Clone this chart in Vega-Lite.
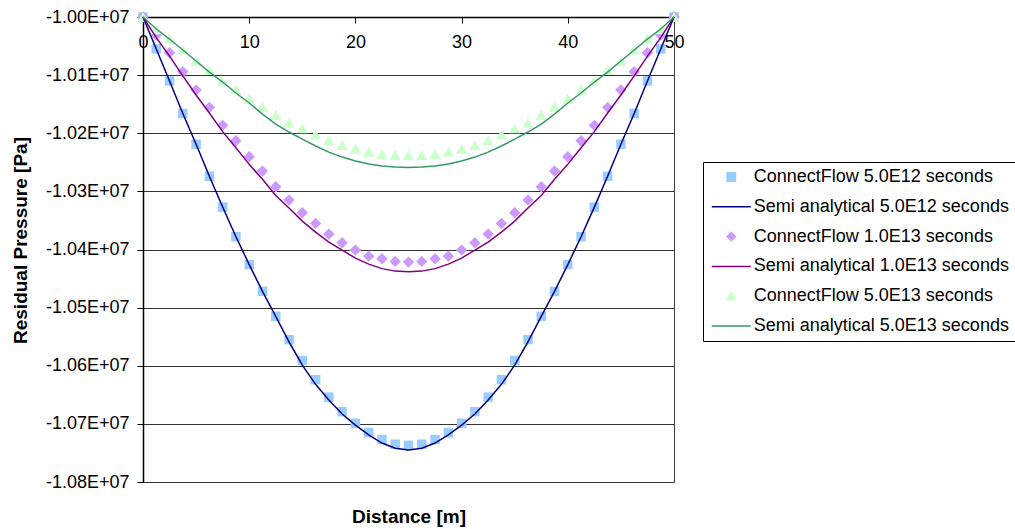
{
"$schema": "https://vega.github.io/schema/vega-lite/v6.json",
"width": 531, "height": 465,
"autosize": {"type": "none"},
"padding": {"left": 143, "top": 17, "right": 341, "bottom": 47},
"background": "white",
"config": {"view": {"stroke": "#404040", "strokeWidth": 1}, "font": "Liberation Sans"},
"datasets": {
"pts": [
{"s":"ConnectFlow 5.0E12 seconds","x":0,"y":-10000000},{"s":"ConnectFlow 5.0E12 seconds","x":1.25,"y":-10055000},{"s":"ConnectFlow 5.0E12 seconds","x":2.5,"y":-10110000},{"s":"ConnectFlow 5.0E12 seconds","x":3.75,"y":-10166000},{"s":"ConnectFlow 5.0E12 seconds","x":5,"y":-10219000},{"s":"ConnectFlow 5.0E12 seconds","x":6.25,"y":-10274000},{"s":"ConnectFlow 5.0E12 seconds","x":7.5,"y":-10327000},{"s":"ConnectFlow 5.0E12 seconds","x":8.75,"y":-10378000},{"s":"ConnectFlow 5.0E12 seconds","x":10,"y":-10426000},{"s":"ConnectFlow 5.0E12 seconds","x":11.25,"y":-10472000},{"s":"ConnectFlow 5.0E12 seconds","x":12.5,"y":-10515000},{"s":"ConnectFlow 5.0E12 seconds","x":13.75,"y":-10555000},{"s":"ConnectFlow 5.0E12 seconds","x":15,"y":-10591000},{"s":"ConnectFlow 5.0E12 seconds","x":16.25,"y":-10624000},{"s":"ConnectFlow 5.0E12 seconds","x":17.5,"y":-10654000},{"s":"ConnectFlow 5.0E12 seconds","x":18.75,"y":-10679000},{"s":"ConnectFlow 5.0E12 seconds","x":20,"y":-10699000},{"s":"ConnectFlow 5.0E12 seconds","x":21.25,"y":-10715000},{"s":"ConnectFlow 5.0E12 seconds","x":22.5,"y":-10727000},{"s":"ConnectFlow 5.0E12 seconds","x":23.75,"y":-10735000},{"s":"ConnectFlow 5.0E12 seconds","x":25,"y":-10737000},{"s":"ConnectFlow 5.0E12 seconds","x":26.25,"y":-10735000},{"s":"ConnectFlow 5.0E12 seconds","x":27.5,"y":-10727000},{"s":"ConnectFlow 5.0E12 seconds","x":28.75,"y":-10715000},{"s":"ConnectFlow 5.0E12 seconds","x":30,"y":-10699000},{"s":"ConnectFlow 5.0E12 seconds","x":31.25,"y":-10679000},{"s":"ConnectFlow 5.0E12 seconds","x":32.5,"y":-10654000},{"s":"ConnectFlow 5.0E12 seconds","x":33.75,"y":-10624000},{"s":"ConnectFlow 5.0E12 seconds","x":35,"y":-10591000},{"s":"ConnectFlow 5.0E12 seconds","x":36.25,"y":-10555000},{"s":"ConnectFlow 5.0E12 seconds","x":37.5,"y":-10515000},{"s":"ConnectFlow 5.0E12 seconds","x":38.75,"y":-10472000},{"s":"ConnectFlow 5.0E12 seconds","x":40,"y":-10426000},{"s":"ConnectFlow 5.0E12 seconds","x":41.25,"y":-10378000},{"s":"ConnectFlow 5.0E12 seconds","x":42.5,"y":-10327000},{"s":"ConnectFlow 5.0E12 seconds","x":43.75,"y":-10274000},{"s":"ConnectFlow 5.0E12 seconds","x":45,"y":-10219000},{"s":"ConnectFlow 5.0E12 seconds","x":46.25,"y":-10166000},{"s":"ConnectFlow 5.0E12 seconds","x":47.5,"y":-10110000},{"s":"ConnectFlow 5.0E12 seconds","x":48.75,"y":-10055000},{"s":"ConnectFlow 5.0E12 seconds","x":50,"y":-10000000},
{"s":"ConnectFlow 1.0E13 seconds","x":0,"y":-10000000},{"s":"ConnectFlow 1.0E13 seconds","x":1.25,"y":-10031000},{"s":"ConnectFlow 1.0E13 seconds","x":2.5,"y":-10061400},{"s":"ConnectFlow 1.0E13 seconds","x":3.75,"y":-10094100},{"s":"ConnectFlow 1.0E13 seconds","x":5,"y":-10125600},{"s":"ConnectFlow 1.0E13 seconds","x":6.25,"y":-10155400},{"s":"ConnectFlow 1.0E13 seconds","x":7.5,"y":-10186400},{"s":"ConnectFlow 1.0E13 seconds","x":8.75,"y":-10212900},{"s":"ConnectFlow 1.0E13 seconds","x":10,"y":-10240400},{"s":"ConnectFlow 1.0E13 seconds","x":11.25,"y":-10265100},{"s":"ConnectFlow 1.0E13 seconds","x":12.5,"y":-10292100},{"s":"ConnectFlow 1.0E13 seconds","x":13.75,"y":-10315000},{"s":"ConnectFlow 1.0E13 seconds","x":15,"y":-10336800},{"s":"ConnectFlow 1.0E13 seconds","x":16.25,"y":-10355100},{"s":"ConnectFlow 1.0E13 seconds","x":17.5,"y":-10373500},{"s":"ConnectFlow 1.0E13 seconds","x":18.75,"y":-10388500},{"s":"ConnectFlow 1.0E13 seconds","x":20,"y":-10401000},{"s":"ConnectFlow 1.0E13 seconds","x":21.25,"y":-10411400},{"s":"ConnectFlow 1.0E13 seconds","x":22.5,"y":-10416000},{"s":"ConnectFlow 1.0E13 seconds","x":23.75,"y":-10420500},{"s":"ConnectFlow 1.0E13 seconds","x":25,"y":-10421700},{"s":"ConnectFlow 1.0E13 seconds","x":26.25,"y":-10420500},{"s":"ConnectFlow 1.0E13 seconds","x":27.5,"y":-10416000},{"s":"ConnectFlow 1.0E13 seconds","x":28.75,"y":-10411400},{"s":"ConnectFlow 1.0E13 seconds","x":30,"y":-10401000},{"s":"ConnectFlow 1.0E13 seconds","x":31.25,"y":-10388500},{"s":"ConnectFlow 1.0E13 seconds","x":32.5,"y":-10373500},{"s":"ConnectFlow 1.0E13 seconds","x":33.75,"y":-10355100},{"s":"ConnectFlow 1.0E13 seconds","x":35,"y":-10336800},{"s":"ConnectFlow 1.0E13 seconds","x":36.25,"y":-10315000},{"s":"ConnectFlow 1.0E13 seconds","x":37.5,"y":-10292100},{"s":"ConnectFlow 1.0E13 seconds","x":38.75,"y":-10265100},{"s":"ConnectFlow 1.0E13 seconds","x":40,"y":-10240400},{"s":"ConnectFlow 1.0E13 seconds","x":41.25,"y":-10212900},{"s":"ConnectFlow 1.0E13 seconds","x":42.5,"y":-10186400},{"s":"ConnectFlow 1.0E13 seconds","x":43.75,"y":-10155400},{"s":"ConnectFlow 1.0E13 seconds","x":45,"y":-10125600},{"s":"ConnectFlow 1.0E13 seconds","x":46.25,"y":-10094100},{"s":"ConnectFlow 1.0E13 seconds","x":47.5,"y":-10061400},{"s":"ConnectFlow 1.0E13 seconds","x":48.75,"y":-10031000},{"s":"ConnectFlow 1.0E13 seconds","x":50,"y":-10000000},
{"s":"ConnectFlow 5.0E13 seconds","x":0,"y":-10000000},{"s":"ConnectFlow 5.0E13 seconds","x":1.25,"y":-10021200},{"s":"ConnectFlow 5.0E13 seconds","x":2.5,"y":-10036700},{"s":"ConnectFlow 5.0E13 seconds","x":3.75,"y":-10055600},{"s":"ConnectFlow 5.0E13 seconds","x":5,"y":-10075200},{"s":"ConnectFlow 5.0E13 seconds","x":6.25,"y":-10091200},{"s":"ConnectFlow 5.0E13 seconds","x":7.5,"y":-10109600},{"s":"ConnectFlow 5.0E13 seconds","x":8.75,"y":-10124400},{"s":"ConnectFlow 5.0E13 seconds","x":10,"y":-10140600},{"s":"ConnectFlow 5.0E13 seconds","x":11.25,"y":-10154400},{"s":"ConnectFlow 5.0E13 seconds","x":12.5,"y":-10168700},{"s":"ConnectFlow 5.0E13 seconds","x":13.75,"y":-10181900},{"s":"ConnectFlow 5.0E13 seconds","x":15,"y":-10191600},{"s":"ConnectFlow 5.0E13 seconds","x":16.25,"y":-10201900},{"s":"ConnectFlow 5.0E13 seconds","x":17.5,"y":-10211700},{"s":"ConnectFlow 5.0E13 seconds","x":18.75,"y":-10220300},{"s":"ConnectFlow 5.0E13 seconds","x":20,"y":-10226700},{"s":"ConnectFlow 5.0E13 seconds","x":21.25,"y":-10231800},{"s":"ConnectFlow 5.0E13 seconds","x":22.5,"y":-10235800},{"s":"ConnectFlow 5.0E13 seconds","x":23.75,"y":-10237500},{"s":"ConnectFlow 5.0E13 seconds","x":25,"y":-10238000},{"s":"ConnectFlow 5.0E13 seconds","x":26.25,"y":-10237500},{"s":"ConnectFlow 5.0E13 seconds","x":27.5,"y":-10235800},{"s":"ConnectFlow 5.0E13 seconds","x":28.75,"y":-10231800},{"s":"ConnectFlow 5.0E13 seconds","x":30,"y":-10226700},{"s":"ConnectFlow 5.0E13 seconds","x":31.25,"y":-10220300},{"s":"ConnectFlow 5.0E13 seconds","x":32.5,"y":-10211700},{"s":"ConnectFlow 5.0E13 seconds","x":33.75,"y":-10201900},{"s":"ConnectFlow 5.0E13 seconds","x":35,"y":-10191600},{"s":"ConnectFlow 5.0E13 seconds","x":36.25,"y":-10181900},{"s":"ConnectFlow 5.0E13 seconds","x":37.5,"y":-10168700},{"s":"ConnectFlow 5.0E13 seconds","x":38.75,"y":-10154400},{"s":"ConnectFlow 5.0E13 seconds","x":40,"y":-10140600},{"s":"ConnectFlow 5.0E13 seconds","x":41.25,"y":-10124400},{"s":"ConnectFlow 5.0E13 seconds","x":42.5,"y":-10109600},{"s":"ConnectFlow 5.0E13 seconds","x":43.75,"y":-10091200},{"s":"ConnectFlow 5.0E13 seconds","x":45,"y":-10075200},{"s":"ConnectFlow 5.0E13 seconds","x":46.25,"y":-10055600},{"s":"ConnectFlow 5.0E13 seconds","x":47.5,"y":-10036700},{"s":"ConnectFlow 5.0E13 seconds","x":48.75,"y":-10021200},{"s":"ConnectFlow 5.0E13 seconds","x":50,"y":-10000000}
],
"curves": [
{"s":"Semi analytical 5.0E12 seconds","x":0,"y":-10000000},{"s":"Semi analytical 5.0E12 seconds","x":1.25,"y":-10055000},{"s":"Semi analytical 5.0E12 seconds","x":2.5,"y":-10110000},{"s":"Semi analytical 5.0E12 seconds","x":3.75,"y":-10166000},{"s":"Semi analytical 5.0E12 seconds","x":5,"y":-10219000},{"s":"Semi analytical 5.0E12 seconds","x":6.25,"y":-10274000},{"s":"Semi analytical 5.0E12 seconds","x":7.5,"y":-10327000},{"s":"Semi analytical 5.0E12 seconds","x":8.75,"y":-10378000},{"s":"Semi analytical 5.0E12 seconds","x":10,"y":-10426000},{"s":"Semi analytical 5.0E12 seconds","x":11.25,"y":-10472000},{"s":"Semi analytical 5.0E12 seconds","x":12.5,"y":-10515000},{"s":"Semi analytical 5.0E12 seconds","x":13.75,"y":-10559000},{"s":"Semi analytical 5.0E12 seconds","x":15,"y":-10599000},{"s":"Semi analytical 5.0E12 seconds","x":16.25,"y":-10632000},{"s":"Semi analytical 5.0E12 seconds","x":17.5,"y":-10659000},{"s":"Semi analytical 5.0E12 seconds","x":18.75,"y":-10683000},{"s":"Semi analytical 5.0E12 seconds","x":20,"y":-10702000},{"s":"Semi analytical 5.0E12 seconds","x":21.25,"y":-10719000},{"s":"Semi analytical 5.0E12 seconds","x":22.5,"y":-10733000},{"s":"Semi analytical 5.0E12 seconds","x":23.75,"y":-10742000},{"s":"Semi analytical 5.0E12 seconds","x":25,"y":-10745000},{"s":"Semi analytical 5.0E12 seconds","x":26.25,"y":-10742000},{"s":"Semi analytical 5.0E12 seconds","x":27.5,"y":-10733000},{"s":"Semi analytical 5.0E12 seconds","x":28.75,"y":-10719000},{"s":"Semi analytical 5.0E12 seconds","x":30,"y":-10702000},{"s":"Semi analytical 5.0E12 seconds","x":31.25,"y":-10683000},{"s":"Semi analytical 5.0E12 seconds","x":32.5,"y":-10659000},{"s":"Semi analytical 5.0E12 seconds","x":33.75,"y":-10632000},{"s":"Semi analytical 5.0E12 seconds","x":35,"y":-10599000},{"s":"Semi analytical 5.0E12 seconds","x":36.25,"y":-10559000},{"s":"Semi analytical 5.0E12 seconds","x":37.5,"y":-10515000},{"s":"Semi analytical 5.0E12 seconds","x":38.75,"y":-10472000},{"s":"Semi analytical 5.0E12 seconds","x":40,"y":-10426000},{"s":"Semi analytical 5.0E12 seconds","x":41.25,"y":-10378000},{"s":"Semi analytical 5.0E12 seconds","x":42.5,"y":-10327000},{"s":"Semi analytical 5.0E12 seconds","x":43.75,"y":-10274000},{"s":"Semi analytical 5.0E12 seconds","x":45,"y":-10219000},{"s":"Semi analytical 5.0E12 seconds","x":46.25,"y":-10166000},{"s":"Semi analytical 5.0E12 seconds","x":47.5,"y":-10110000},{"s":"Semi analytical 5.0E12 seconds","x":48.75,"y":-10055000},{"s":"Semi analytical 5.0E12 seconds","x":50,"y":-10000000},
{"s":"Semi analytical 1.0E13 seconds","x":0,"y":-10000000},{"s":"Semi analytical 1.0E13 seconds","x":1.25,"y":-10035600},{"s":"Semi analytical 1.0E13 seconds","x":2.5,"y":-10067300},{"s":"Semi analytical 1.0E13 seconds","x":3.75,"y":-10101400},{"s":"Semi analytical 1.0E13 seconds","x":5,"y":-10134100},{"s":"Semi analytical 1.0E13 seconds","x":6.25,"y":-10165100},{"s":"Semi analytical 1.0E13 seconds","x":7.5,"y":-10197200},{"s":"Semi analytical 1.0E13 seconds","x":8.75,"y":-10224800},{"s":"Semi analytical 1.0E13 seconds","x":10,"y":-10253500},{"s":"Semi analytical 1.0E13 seconds","x":11.25,"y":-10279200},{"s":"Semi analytical 1.0E13 seconds","x":12.5,"y":-10307200},{"s":"Semi analytical 1.0E13 seconds","x":13.75,"y":-10328700},{"s":"Semi analytical 1.0E13 seconds","x":15,"y":-10351100},{"s":"Semi analytical 1.0E13 seconds","x":16.25,"y":-10370100},{"s":"Semi analytical 1.0E13 seconds","x":17.5,"y":-10387300},{"s":"Semi analytical 1.0E13 seconds","x":18.75,"y":-10401000},{"s":"Semi analytical 1.0E13 seconds","x":20,"y":-10414800},{"s":"Semi analytical 1.0E13 seconds","x":21.25,"y":-10425100},{"s":"Semi analytical 1.0E13 seconds","x":22.5,"y":-10432900},{"s":"Semi analytical 1.0E13 seconds","x":23.75,"y":-10437200},{"s":"Semi analytical 1.0E13 seconds","x":25,"y":-10438400},{"s":"Semi analytical 1.0E13 seconds","x":26.25,"y":-10437200},{"s":"Semi analytical 1.0E13 seconds","x":27.5,"y":-10432900},{"s":"Semi analytical 1.0E13 seconds","x":28.75,"y":-10425100},{"s":"Semi analytical 1.0E13 seconds","x":30,"y":-10414800},{"s":"Semi analytical 1.0E13 seconds","x":31.25,"y":-10401000},{"s":"Semi analytical 1.0E13 seconds","x":32.5,"y":-10387300},{"s":"Semi analytical 1.0E13 seconds","x":33.75,"y":-10370100},{"s":"Semi analytical 1.0E13 seconds","x":35,"y":-10351100},{"s":"Semi analytical 1.0E13 seconds","x":36.25,"y":-10328700},{"s":"Semi analytical 1.0E13 seconds","x":37.5,"y":-10307200},{"s":"Semi analytical 1.0E13 seconds","x":38.75,"y":-10279200},{"s":"Semi analytical 1.0E13 seconds","x":40,"y":-10253500},{"s":"Semi analytical 1.0E13 seconds","x":41.25,"y":-10224800},{"s":"Semi analytical 1.0E13 seconds","x":42.5,"y":-10197200},{"s":"Semi analytical 1.0E13 seconds","x":43.75,"y":-10165100},{"s":"Semi analytical 1.0E13 seconds","x":45,"y":-10134100},{"s":"Semi analytical 1.0E13 seconds","x":46.25,"y":-10101400},{"s":"Semi analytical 1.0E13 seconds","x":47.5,"y":-10067300},{"s":"Semi analytical 1.0E13 seconds","x":48.75,"y":-10035600},{"s":"Semi analytical 1.0E13 seconds","x":50,"y":-10000000},
{"s":"Semi analytical 5.0E13 seconds","x":0,"y":-10000000},{"s":"Semi analytical 5.0E13 seconds","x":1.25,"y":-10020700},{"s":"Semi analytical 5.0E13 seconds","x":2.5,"y":-10037900},{"s":"Semi analytical 5.0E13 seconds","x":3.75,"y":-10056800},{"s":"Semi analytical 5.0E13 seconds","x":5,"y":-10075700},{"s":"Semi analytical 5.0E13 seconds","x":6.25,"y":-10094700},{"s":"Semi analytical 5.0E13 seconds","x":7.5,"y":-10111900},{"s":"Semi analytical 5.0E13 seconds","x":8.75,"y":-10130800},{"s":"Semi analytical 5.0E13 seconds","x":10,"y":-10148000},{"s":"Semi analytical 5.0E13 seconds","x":11.25,"y":-10167000},{"s":"Semi analytical 5.0E13 seconds","x":12.5,"y":-10184200},{"s":"Semi analytical 5.0E13 seconds","x":13.75,"y":-10197900},{"s":"Semi analytical 5.0E13 seconds","x":15,"y":-10210000},{"s":"Semi analytical 5.0E13 seconds","x":16.25,"y":-10222000},{"s":"Semi analytical 5.0E13 seconds","x":17.5,"y":-10232400},{"s":"Semi analytical 5.0E13 seconds","x":18.75,"y":-10241000},{"s":"Semi analytical 5.0E13 seconds","x":20,"y":-10247800},{"s":"Semi analytical 5.0E13 seconds","x":21.25,"y":-10253000},{"s":"Semi analytical 5.0E13 seconds","x":22.5,"y":-10256500},{"s":"Semi analytical 5.0E13 seconds","x":23.75,"y":-10258200},{"s":"Semi analytical 5.0E13 seconds","x":25,"y":-10259000},{"s":"Semi analytical 5.0E13 seconds","x":26.25,"y":-10258200},{"s":"Semi analytical 5.0E13 seconds","x":27.5,"y":-10256500},{"s":"Semi analytical 5.0E13 seconds","x":28.75,"y":-10253000},{"s":"Semi analytical 5.0E13 seconds","x":30,"y":-10247800},{"s":"Semi analytical 5.0E13 seconds","x":31.25,"y":-10241000},{"s":"Semi analytical 5.0E13 seconds","x":32.5,"y":-10232400},{"s":"Semi analytical 5.0E13 seconds","x":33.75,"y":-10222000},{"s":"Semi analytical 5.0E13 seconds","x":35,"y":-10210000},{"s":"Semi analytical 5.0E13 seconds","x":36.25,"y":-10197900},{"s":"Semi analytical 5.0E13 seconds","x":37.5,"y":-10184200},{"s":"Semi analytical 5.0E13 seconds","x":38.75,"y":-10167000},{"s":"Semi analytical 5.0E13 seconds","x":40,"y":-10148000},{"s":"Semi analytical 5.0E13 seconds","x":41.25,"y":-10130800},{"s":"Semi analytical 5.0E13 seconds","x":42.5,"y":-10111900},{"s":"Semi analytical 5.0E13 seconds","x":43.75,"y":-10094700},{"s":"Semi analytical 5.0E13 seconds","x":45,"y":-10075700},{"s":"Semi analytical 5.0E13 seconds","x":46.25,"y":-10056800},{"s":"Semi analytical 5.0E13 seconds","x":47.5,"y":-10037900},{"s":"Semi analytical 5.0E13 seconds","x":48.75,"y":-10020700},{"s":"Semi analytical 5.0E13 seconds","x":50,"y":-10000000}
]
},
"layer": [
{
"data": {"name": "pts"},
"mark": {"type": "point", "filled": true, "opacity": 1},
"encoding": {
"x": {"field": "x", "type": "quantitative",
"scale": {"domain": [0, 50], "nice": false, "zero": false},
"axis": {"orient": "top", "values": [0, 10, 20, 30, 40, 50], "grid": false,
"domainColor": "black", "domainWidth": 1.5, "tickColor": "black", "tickSize": -6, "tickWidth": 1,
"labelPadding": -10, "labelBaseline": "top", "labelFlush": false, "labelOverlap": false,
"labelFont": "Liberation Sans", "labelFontSize": 18, "labelColor": "black",
"title": "Distance [m]", "titleFont": "Liberation Sans", "titleFontSize": 19, "titleFontWeight": "bold", "titleColor": "black",
"titleX": 265.5, "titleY": 505, "titleAlign": "center", "titleBaseline": "alphabetic", "titleAngle": 0}},
"y": {"field": "y", "type": "quantitative",
"scale": {"domain": [-10800000, -10000000], "nice": false, "zero": false},
"axis": {"values": [-10800000, -10700000, -10600000, -10500000, -10400000, -10300000, -10200000, -10100000, -10000000],
"labelExpr": "'-' + format(-datum.value / 10000000, '.2f') + 'E+07'",
"grid": true, "gridColor": "#333333", "gridWidth": 1, "gridOpacity": 1,
"domainColor": "black", "domainWidth": 1.5, "tickColor": "black", "tickSize": 6,
"labelPadding": 8, "labelFont": "Liberation Sans", "labelFontSize": 18, "labelColor": "black",
"title": "Residual Pressure [Pa]", "titleFont": "Liberation Sans", "titleFontSize": 19, "titleFontWeight": "bold", "titleColor": "black",
"titleX": -117, "titleY": 223, "titleAlign": "center", "titleBaseline": "alphabetic", "titleAngle": -90}},
"size": {"condition": {"test": "datum.s == 'ConnectFlow 5.0E12 seconds'", "value": 90}, "value": 130},
"color": {"field": "s", "type": "nominal",
"scale": {"domain": ["ConnectFlow 5.0E12 seconds", "Semi analytical 5.0E12 seconds", "ConnectFlow 1.0E13 seconds", "Semi analytical 1.0E13 seconds", "ConnectFlow 5.0E13 seconds", "Semi analytical 5.0E13 seconds"],
"range": ["#99CCFF", "#000080", "#CC99FF", "#800080", "#CCFFCC", "#339966"]},
"legend": {"orient": "none", "legendX": 560, "legendY": 145, "title": null,
"padding": 6, "strokeColor": "black", "fillColor": "white",
"symbolSize": 100, "symbolOffset": 13.25, "labelOffset": 13.5, "rowPadding": 11.8,
"symbolStrokeWidth": 1.5, "symbolOpacity": 1, "labelLimit": 0,
"labelFont": "Liberation Sans", "labelFontSize": 18, "labelColor": "black",
"encode": {"symbols": {"update": {"size": {"signal": "datum.label && datum.label[0] == 'S' ? 1521 : 70"}}}}}},
"shape": {"field": "s", "type": "nominal",
"scale": {"domain": ["ConnectFlow 5.0E12 seconds", "Semi analytical 5.0E12 seconds", "ConnectFlow 1.0E13 seconds", "Semi analytical 1.0E13 seconds", "ConnectFlow 5.0E13 seconds", "Semi analytical 5.0E13 seconds"],
"range": ["square", "stroke", "diamond", "stroke", "triangle-up", "stroke"]}}
}
},
{
"data": {"name": "curves"},
"mark": {"type": "line", "strokeWidth": 1.5},
"encoding": {
"x": {"field": "x", "type": "quantitative"},
"y": {"field": "y", "type": "quantitative"},
"color": {"field": "s", "type": "nominal"}
}
}
]
}
